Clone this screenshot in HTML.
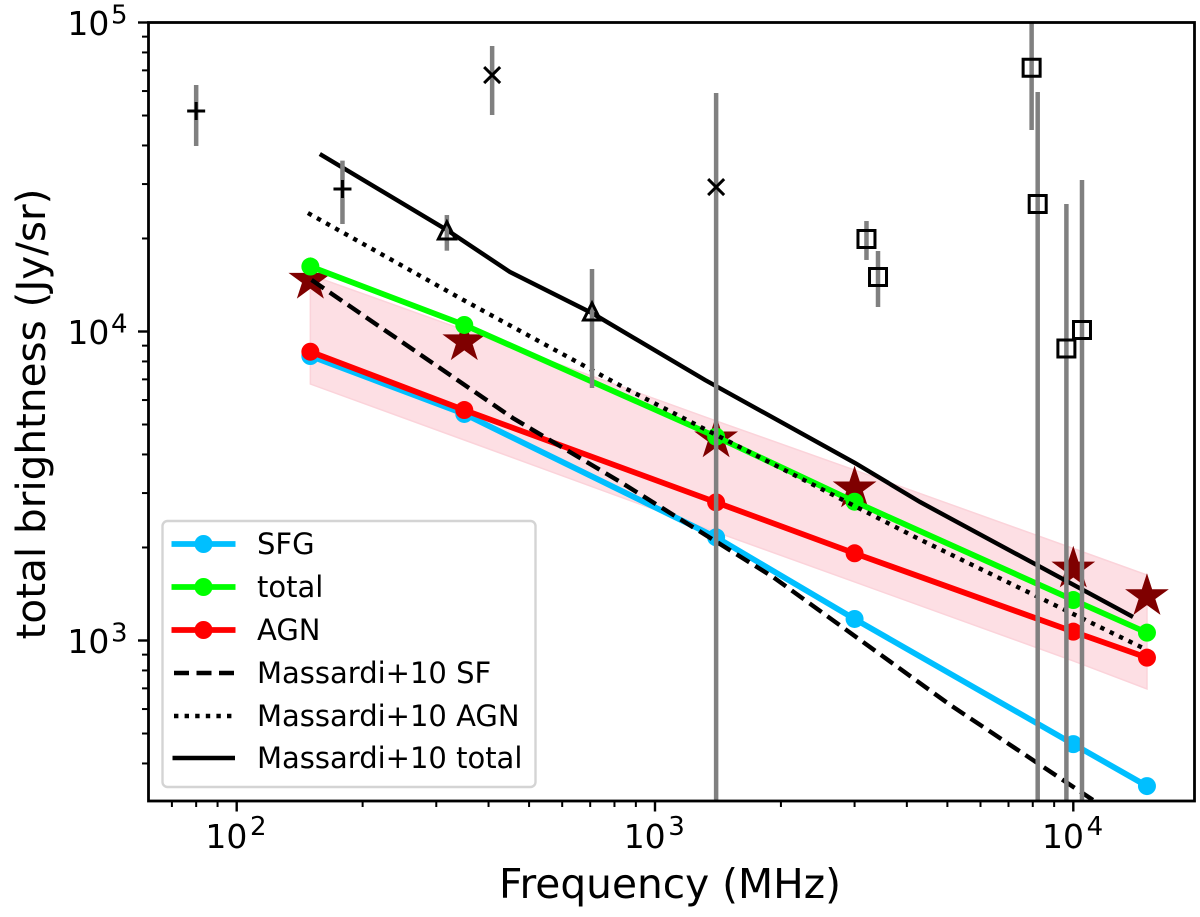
<!DOCTYPE html>
<html lang="en">
<head>
<meta charset="utf-8">
<title>Total brightness vs frequency</title>
<style>
html,body{margin:0;padding:0;background:#fff;}
svg{display:block;}
text{font-family:"DejaVu Sans","Liberation Sans",sans-serif;fill:#000;}
</style>
</head>
<body>
<svg id="chart" xmlns="http://www.w3.org/2000/svg" width="1200" height="917" viewBox="0 0 1200 917">
  <defs>
    <clipPath id="plot-clip"><rect x="148.5" y="22.5" width="1046" height="778.5"></rect></clipPath>
  </defs>
  <rect x="0" y="0" width="1200" height="917" fill="#fff"></rect>
  <g id="plot" clip-path="url(#plot-clip)"></g>
  <g id="ticks"></g>
  <rect x="148.5" y="22.5" width="1046" height="778.5" fill="none" stroke="#000" stroke-width="2.8"></rect>
  <text x="670" y="898" font-size="40.7" text-anchor="middle">Frequency (MHz)</text>
  <text transform="translate(45 414) rotate(-90)" font-size="40.5" text-anchor="middle">total brightness (Jy/sr)</text>
  <g>
    <rect x="162.5" y="521" width="373" height="266" rx="5" ry="5" fill="#fff" fill-opacity="0.8" stroke="#d4d4d4" stroke-width="2.4"></rect>
    <g>
      <line x1="171.5" x2="235.5" y1="544" y2="544" stroke="#00bfff" stroke-width="5.8"></line>
      <circle cx="203.5" cy="544" r="9" fill="#00bfff"></circle>
      <text x="257" y="554" font-size="29">SFG</text>
    </g>
    <g>
      <line x1="171.5" x2="235.5" y1="587" y2="587" stroke="#00ff00" stroke-width="5.8"></line>
      <circle cx="203.5" cy="587" r="9" fill="#00ff00"></circle>
      <text x="257" y="597" font-size="29">total</text>
    </g>
    <g>
      <line x1="171.5" x2="235.5" y1="630" y2="630" stroke="#ff0000" stroke-width="5.8"></line>
      <circle cx="203.5" cy="630" r="9" fill="#ff0000"></circle>
      <text x="257" y="640" font-size="29">AGN</text>
    </g>
    <g>
      <line x1="174" x2="234" y1="673" y2="673" stroke="#000" stroke-width="4.4" stroke-dasharray="15 7.5"></line>
      <text x="257" y="683" font-size="29">Massardi+10 SF</text>
    </g>
    <g>
      <line x1="174" x2="234" y1="716" y2="716" stroke="#000" stroke-width="4.4" stroke-dasharray="4.4 6.2"></line>
      <text x="257" y="726" font-size="29">Massardi+10 AGN</text>
    </g>
    <g>
      <line x1="172.5" x2="235" y1="758" y2="758" stroke="#000" stroke-width="4.4"></line>
      <text x="257" y="768" font-size="29">Massardi+10 total</text>
    </g>
  </g>
</svg>
<script>
// ---- model frequencies (MHz) and series values (Jy/sr) ----
var modelFreq = [150, 350, 1400, 3000, 10000, 15000];
var sfgValues = [8330, 5410, 2158, 1174, 462, 338];
var totalValues = [16230, 10500, 4565, 2813, 1352, 1060];
var agnValues = [8603, 5570, 2800, 1915, 1068, 880];
var starValues = [14680, 9280, 4500, 3100, 1707, 1390];
var bandUpper = [15240, 10110, 5134, 3562, 1985, 1629];
var bandLower = [6761, 4455, 2244, 1547, 859, 697];

// ---- Massardi+10 curves ----
var massardiTotalFreq = [158, 318, 450, 706, 1317, 3008, 4300, 13890];
var massardiTotalValues = [37530, 21310, 15580, 11480, 6966, 3753, 2807, 1192];
var massardiAgnFreq = [148, 348, 847, 4180, 14670];
var massardiAgnValues = [24180, 12650, 6563, 2163, 946];
var massardiSfFreq = [151, 457, 834, 1915, 5074, 11590];
var massardiSfValues = [14680, 5250, 3234, 1605, 619, 294];

// ---- literature measurements with error bars ----
var obsShape = ['plus', 'plus', 'cross', 'cross', 'triangle', 'triangle', 'square', 'square', 'square', 'square', 'square', 'square'];
var obsFreq = [80, 179, 408, 1400, 318, 707, 7950, 8220, 3203, 3413, 9627, 10490];
var obsValue = [51700, 28920, 67620, 29350, 21150, 11560, 71400, 25860, 19930, 15010, 8810, 10110];
var obsHigh = [62750, 35720, 83950, 59130, 23820, 15930, 110000, 59560, 22780, 18220, 25860, 30930];
var obsLow = [39830, 22280, 50190, 200, 18260, 6563, 44880, 200, 17040, 12000, 200, 200];

// ---- axis ticks ----
var xMajorTicks = [100, 1000, 10000];
var xMajorExponents = ['2', '3', '4'];
var xMinorTicks = [70, 80, 90, 200, 300, 400, 500, 600, 700, 800, 900, 2000, 3000, 4000, 5000, 6000, 7000, 8000, 9000];
var yMajorTicks = [1000, 10000, 100000];
var yMajorExponents = ['3', '4', '5'];
var yMinorTicks = [400, 500, 600, 700, 800, 900, 2000, 3000, 4000, 5000, 6000, 7000, 8000, 9000, 20000, 30000, 40000, 50000, 60000, 70000, 80000, 90000];

var NS = 'http://www.w3.org/2000/svg';
function xScale(f) { return 236.7 + 418.3 * (Math.log10(f) - 2); }
function yScale(v) { return 640.5 - 309 * (Math.log10(v) - 3); }
function make(tag, parent) {
  var n = document.createElementNS(NS, tag);
  parent.appendChild(n);
  return n;
}
function pathFrom(xs, ys) {
  var d = '';
  for (var i = 0; i < xs.length; i++) {
    d += (i ? 'L' : 'M') + xScale(xs[i]).toFixed(2) + ' ' + yScale(ys[i]).toFixed(2);
  }
  return d;
}

var plot = document.getElementById('plot');
var ticks = document.getElementById('ticks');

// pink band
var band = make('path', plot);


var bandPath = pathFrom(modelFreq, bandUpper);
for (var b = modelFreq.length - 1; b >= 0; b--) {
  bandPath += 'L' + xScale(modelFreq[b]).toFixed(2) + ' ' + yScale(bandLower[b]).toFixed(2);
}
band.setAttribute('d', bandPath + 'Z');
band.setAttribute('fill', '#fddfe4');
band.setAttribute('stroke', '#fbd3da');
band.setAttribute('stroke-width', '1.5');

// stars
modelFreq.forEach(function (f, i) {
  var star = make('polygon', plot);
  
  
  var cx = xScale(f), cy = yScale(starValues[i]), pts = [];
  for (var k = 0; k < 10; k++) {
    var r = k % 2 ? 8.8 : 23;
    var a = -Math.PI / 2 + k * Math.PI / 5;
    pts.push((cx + r * Math.cos(a)).toFixed(2) + ',' + (cy + r * Math.sin(a)).toFixed(2));
  }
  star.setAttribute('points', pts.join(' '));
  star.setAttribute('fill', '#7f0000');
});

// model series with markers
function drawSeries(values, color, name) {
  var line = make('path', plot);
  
  
  line.setAttribute('d', pathFrom(modelFreq, values));
  line.setAttribute('fill', 'none');
  line.setAttribute('stroke', color);
  line.setAttribute('stroke-width', '5.8');
  modelFreq.forEach(function (f, i) {
    var dot = make('circle', plot);
    
    
    dot.setAttribute('cx', xScale(f));
    dot.setAttribute('cy', yScale(values[i]));
    dot.setAttribute('r', '9');
    dot.setAttribute('fill', color);
  });
}
drawSeries(sfgValues, '#00bfff', 'sfg');
drawSeries(totalValues, '#00ff00', 'total');
drawSeries(agnValues, '#ff0000', 'agn');

// Massardi curves
function drawCurve(fs, vs, dash, name) {
  var c = make('path', plot);
  
  
  c.setAttribute('d', pathFrom(fs, vs));
  c.setAttribute('fill', 'none');
  c.setAttribute('stroke', '#000');
  c.setAttribute('stroke-width', '4.4');
  if (dash) { c.setAttribute('stroke-dasharray', dash); }
}
drawCurve(massardiSfFreq, massardiSfValues, '15 7', 'massardi-sf-line');
drawCurve(massardiAgnFreq, massardiAgnValues, '4.4 6', 'massardi-agn-line');
drawCurve(massardiTotalFreq, massardiTotalValues, '', 'massardi-total-line');

// observations
obsFreq.forEach(function (f, i) {
  var x = xScale(f);
  var err = make('line', plot);
  
  
  err.setAttribute('x1', x);
  err.setAttribute('x2', x);
  err.setAttribute('y1', yScale(obsHigh[i]));
  err.setAttribute('y2', yScale(obsLow[i]));
  err.setAttribute('stroke', '#808080');
  err.setAttribute('stroke-width', '4.5');
});
obsFreq.forEach(function (f, i) {
  var x = xScale(f), y = yScale(obsValue[i]), s = obsShape[i];
  var m = make('path', plot);
  
  
  var d;
  if (s === 'plus') {
    d = 'M' + (x - 9) + ' ' + y + 'H' + (x + 9) + 'M' + x + ' ' + (y - 9) + 'V' + (y + 9);
  } else if (s === 'cross') {
    d = 'M' + (x - 8) + ' ' + (y - 8) + 'L' + (x + 8) + ' ' + (y + 8) + 'M' + (x - 8) + ' ' + (y + 8) + 'L' + (x + 8) + ' ' + (y - 8);
  } else if (s === 'triangle') {
    d = 'M' + x + ' ' + (y - 9) + 'L' + (x + 8.5) + ' ' + (y + 8) + 'H' + (x - 8.5) + 'Z';
  } else {
    d = 'M' + (x - 8.5) + ' ' + (y - 8.5) + 'H' + (x + 8.5) + 'V' + (y + 8.5) + 'H' + (x - 8.5) + 'Z';
  }
  m.setAttribute('d', d);
  m.setAttribute('fill', 'none');
  m.setAttribute('stroke', '#000');
  m.setAttribute('stroke-width', '3');
});

// ticks
function tickLine(x1, y1, x2, y2, w, name) {
  var t = make('line', ticks);
  
  
  t.setAttribute('x1', x1);
  t.setAttribute('y1', y1);
  t.setAttribute('x2', x2);
  t.setAttribute('y2', y2);
  t.setAttribute('stroke', '#000');
  t.setAttribute('stroke-width', w);
}
function tickLabel(x, y, supX, supY, exponent, name) {
  var g = make('g', ticks);
  
  
  var base = make('text', g);
  base.setAttribute('x', x);
  base.setAttribute('y', y);
  base.setAttribute('font-size', '33');
  base.textContent = '10';
  var sup = make('text', g);
  sup.setAttribute('x', supX);
  sup.setAttribute('y', supY);
  sup.setAttribute('font-size', '26');
  sup.textContent = exponent;
}
xMinorTicks.forEach(function (f) {
  tickLine(xScale(f), 801, xScale(f), 807, 2, 'x-minor-tick');
});
xMajorTicks.forEach(function (f, i) {
  var x = xScale(f);
  tickLine(x, 801, x, 811.5, 2.4, 'x-major-tick');
  tickLabel(x - 31.3, 848, x + 13.3, 835, xMajorExponents[i], 'x-tick-label');
});
yMinorTicks.forEach(function (v) {
  tickLine(148.5, yScale(v), 142, yScale(v), 2, 'y-minor-tick');
});
yMajorTicks.forEach(function (v, i) {
  var y = yScale(v);
  tickLine(148.5, y, 138, y, 2.4, 'y-major-tick');
  tickLabel(67.4, y + 12.3, 111, y + 1, yMajorExponents[i], 'y-tick-label');
});
</script>
</body>
</html>
